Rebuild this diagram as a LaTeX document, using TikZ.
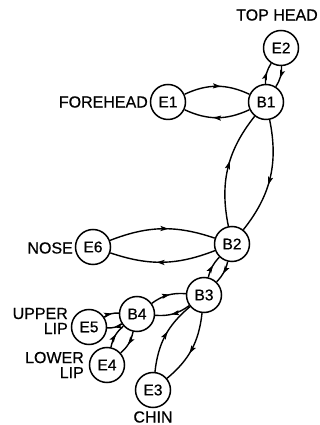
\documentclass[tikz,border=0pt]{standalone}
\usepackage{fontspec}
\setmainfont{Liberation Sans}
\newfontfamily\labelfont{Liberation Sans}[FakeBold=0.6]
\usetikzlibrary{decorations.markings,arrows.meta}
\begin{document}
\begin{tikzpicture}[x=1pt,y=1pt,
  state/.style={circle,draw,line width=1.5pt,minimum size=35pt,inner sep=0pt,
    font=\labelfont\fontsize{15.5}{15}\selectfont},
  lbl/.style={font=\labelfont\fontsize{16}{15}\selectfont,inner sep=0pt,align=right},
  link/.style={line width=1.4pt,postaction={decorate},
    decoration={markings,mark=at position 0.56 with {\arrow{Stealth[length=8pt,width=5pt,inset=1.5pt]}}}}
]
\useasboundingbox (0,0) rectangle (320,425);

% states
\node[state] (E2) at (281,377) {E2};
\node[state] (B1) at (266,323) {B1};
\node[state] (E1) at (168,323) {E1};
\node[state] (B2) at (232,181) {B2};
\node[state] (E6) at (93,178) {E6};
\node[state] (B3) at (204,130) {B3};
\node[state] (B4) at (137,111) {B4};
\node[state] (E5) at (89,98) {E5};
\node[state] (E4) at (107,60) {E4};
\node[state] (E3) at (153,35) {E3};

% labels
\node[lbl] (tophead) at (277,410) {TOP HEAD};
\node[lbl,anchor=east] (forehead) at (148,323) {FOREHEAD};
\node[lbl,anchor=east] (nose) at (73,177) {NOSE};
\node[lbl,anchor=east] (upperlip) at (68,104) {UPPER\\LIP};
\node[lbl,anchor=east] (lowerlip) at (84,60) {LOWER\\LIP};
\node[lbl] (chin) at (153,8) {CHIN};

% paired transitions
\draw[link] (E1) to[bend left=25] (B1);
\draw[link] (B1) to[bend left=25] (E1);
\draw[link] (B1) to[bend left=17] (E2);
\draw[link] (E2) to[bend left=17] (B1);
\draw[link] (B1) to[bend left=25] (B2);
\draw[link] (B2) to[bend left=25] (B1);
\draw[link] (E6) to[bend left=20] (B2);
\draw[link] (B2) to[bend left=20] (E6);
\draw[link] (B2) to[bend left=15] (B3);
\draw[link] (B3) to[bend left=15] (B2);
\draw[link] (B4) to[bend left=20] (B3);
\draw[link] (B3) to[bend left=20] (B4);
\draw[link] (E5) to[bend left=18] (B4);
\draw[link] (B4) to[bend left=18] (E5);
\draw[link] (E4) to[bend left=18] (B4);
\draw[link] (B4) to[bend left=18] (E4);
\draw[link] (E3) to[bend left=22] (B3);
\draw[link] (B3) to[bend left=22] (E3);
\end{tikzpicture}
\end{document}
